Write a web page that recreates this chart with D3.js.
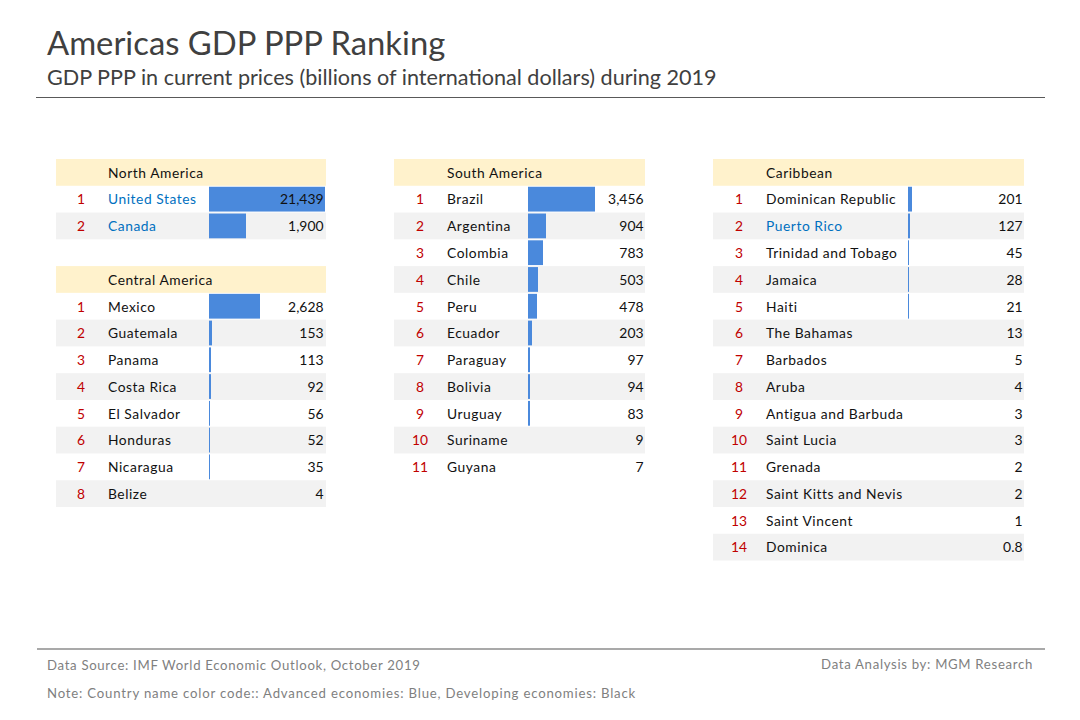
<!DOCTYPE html>
<html>
<head>
<meta charset="utf-8">
<script src="https://cdn.jsdelivr.net/npm/d3@7"></script>
<style>
  html, body { margin: 0; padding: 0; background: #fff; }
  text { font-family: Lato, "Open Sans", sans-serif; }
  .label { letter-spacing: 0.55px; }
  .foot { letter-spacing: 0.68px; }
  .note { letter-spacing: 0.8px; }
</style>
</head>
<body>
<div id="chart"></div>
<script>
const northNames = ["United States", "Canada"];
const northValues = [21439, 1900];

const centralNames = ["Mexico", "Guatemala", "Panama", "Costa Rica", "El Salvador", "Honduras", "Nicaragua", "Belize"];
const centralValues = [2628, 153, 113, 92, 56, 52, 35, 4];

const southNames = ["Brazil", "Argentina", "Colombia", "Chile", "Peru", "Ecuador", "Paraguay", "Bolivia", "Uruguay", "Suriname", "Guyana"];
const southValues = [3456, 904, 783, 503, 478, 203, 97, 94, 83, 9, 7];

const caribNames = ["Dominican Republic", "Puerto Rico", "Trinidad and Tobago", "Jamaica", "Haiti", "The Bahamas", "Barbados", "Aruba", "Antigua and Barbuda", "Saint Lucia", "Grenada", "Saint Kitts and Nevis", "Saint Vincent", "Dominica"];
const caribValues = [201, 127, 45, 28, 21, 13, 5, 4, 3, 3, 2, 2, 1, 0.8];

const advanced = ["United States", "Canada", "Puerto Rico"];

const width = 1080;
const height = 720;

const svg = d3.select("#chart").append("svg")
    .attr("width", width)
    .attr("height", height)
    .style("display", "block");

// all tables sit on the same row grid, header of the first one is row 0
const rowScale = d3.scaleBand()
    .domain(d3.range(15))
    .range([159, 159 + 15 * 26.77]);

// bars are capped, the US runs off the top of the scale
const barCap = 5950;
const minValueDrawn = 20;
const textDrop = 5.3;
const fmt = d3.format(",");

function drawTable(title, names, values, startRow, col) {
    const barX = d3.scaleLinear().domain([0, barCap]).range([0, col.barWidth]).clamp(true);
    const g = svg.append("g");
    const rows = names.map((n, i) => ({name: n, value: values[i], rank: i + 1, row: startRow + 1 + i}));

    g.append("rect")
        .attr("x", col.left)
        .attr("y", rowScale(startRow))
        .attr("width", col.right - col.left)
        .attr("height", rowScale.bandwidth())
        .attr("fill", "#fff2cc");

    g.append("text")
        .attr("class", "label")
        .attr("x", col.name)
        .attr("y", rowScale(startRow) + rowScale.bandwidth() / 2 + textDrop)
        .attr("font-size", 13.8)
        .attr("fill", "#111")
        .text(title);

    const row = g.selectAll("g.row")
        .data(rows)
        .enter().append("g")
        .attr("class", "row")
        .attr("transform", d => `translate(0,${rowScale(d.row)})`);

    row.filter(d => d.rank % 2 === 0).append("rect")
        .attr("x", col.left)
        .attr("width", col.right - col.left)
        .attr("height", rowScale.bandwidth())
        .attr("fill", "#f2f2f2");

    row.filter(d => d.value >= minValueDrawn).append("rect")
        .attr("x", col.bar)
        .attr("y", 1)
        .attr("width", d => Math.max(1, Math.round(barX(d.value))))
        .attr("height", rowScale.bandwidth() - 2)
        .attr("fill", "#4a89dc");

    row.append("text")
        .attr("x", col.rank)
        .attr("y", rowScale.bandwidth() / 2 + textDrop)
        .attr("text-anchor", "middle")
        .attr("font-size", 13.8)
        .attr("fill", "#c00000")
        .text(d => d.rank);

    row.append("text")
        .attr("class", "label")
        .attr("x", col.name)
        .attr("y", rowScale.bandwidth() / 2 + textDrop)
        .attr("font-size", 13.8)
        .attr("fill", d => advanced.includes(d.name) ? "#0070c0" : "#111")
        .text(d => d.name);

    row.append("text")
        .attr("x", col.valueRight)
        .attr("y", rowScale.bandwidth() / 2 + textDrop)
        .attr("text-anchor", "end")
        .attr("font-size", 13.9)
        .attr("fill", "#111")
        .text(d => fmt(d.value));
}

const col1 = {left: 56, right: 326, rank: 81, name: 108, bar: 209, barWidth: 116, valueRight: 323.5};
const col2 = {left: 394, right: 645, rank: 420, name: 447, bar: 528, barWidth: 116, valueRight: 643.5};
const col3 = {left: 713, right: 1024, rank: 739, name: 766, bar: 908, barWidth: 116, valueRight: 1022.5};

drawTable("North America", northNames, northValues, 0, col1);
drawTable("Central America", centralNames, centralValues, 4, col1);
drawTable("South America", southNames, southValues, 0, col2);
drawTable("Caribbean", caribNames, caribValues, 0, col3);

// title block
svg.append("text").attr("x", 47).attr("y", 55)
    .attr("font-size", 32.8).attr("fill", "#404040")
    .text("Americas GDP PPP Ranking");
svg.append("text").attr("x", 47).attr("y", 85)
    .attr("font-size", 21.6).attr("fill", "#404040")
    .text("GDP PPP in current prices (billions of international dollars) during 2019");
svg.append("line").attr("x1", 36).attr("x2", 1045).attr("y1", 97.5).attr("y2", 97.5)
    .attr("stroke", "#595959");

// footer
svg.append("line").attr("x1", 37).attr("x2", 1045).attr("y1", 649).attr("y2", 649)
    .attr("stroke", "#8c8c8c").attr("stroke-width", 1.5);
svg.append("text").attr("class", "foot").attr("x", 47).attr("y", 670)
    .attr("font-size", 13.2).attr("fill", "#7f7f7f")
    .text("Data Source: IMF World Economic Outlook, October 2019");
svg.append("text").attr("class", "foot").attr("x", 1033).attr("y", 669)
    .attr("text-anchor", "end")
    .attr("font-size", 13.2).attr("fill", "#7f7f7f")
    .text("Data Analysis by: MGM Research");
svg.append("text").attr("class", "note").attr("x", 47).attr("y", 698)
    .attr("font-size", 13.2).attr("fill", "#7f7f7f")
    .text("Note: Country name color code:: Advanced economies: Blue, Developing economies: Black");
</script>
</body>
</html>
